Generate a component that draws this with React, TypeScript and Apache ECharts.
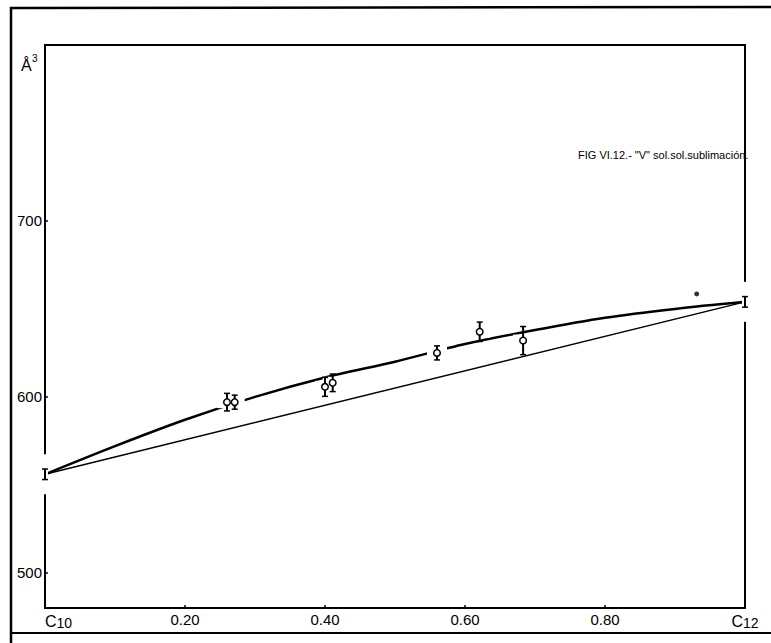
import React, { useEffect, useRef } from "react";
import * as echarts from "echarts";

const xTicks = [0, 0.2, 0.4, 0.6, 0.8, 1.0];
const xTickLabels = ["C10", "0.20", "0.40", "0.60", "0.80", "C12"];
const yTicks = [500, 600, 700];

const upperCurveX = [0, 0.1, 0.2, 0.3, 0.4, 0.5, 0.6, 0.7, 0.8, 0.9, 1.0];
const upperCurveY = [556, 572, 587, 600, 611, 620, 630, 638, 645, 650, 654];

const lowerLineX = [0, 1];
const lowerLineY = [556, 654];

const pointX = [0.26, 0.271, 0.4, 0.411, 0.56, 0.621, 0.683];
const pointY = [597, 597, 605.7, 608, 625, 637, 632];
const pointErr = [5, 4, 5.4, 5, 4, 5.5, 8];

const endX = [0, 1];
const endY = [556, 654];
const endErr = [3, 3];

const strayX = [0.931];
const strayY = [658.5];

const titleText = 'FIG VI.12.- "V" sol.sol.sublimación.';
const FONT = '"Liberation Sans", sans-serif';

export default function App() {
  const ref = useRef<HTMLDivElement>(null);
  useEffect(() => {
    document.body.style.margin = "0";
    const chart = echarts.init(ref.current!, null, { renderer: "svg" });
    const pts = pointX.map((x, i) => [x, pointY[i], pointErr[i]]);
    const ends = endX.map((x, i) => [x, endY[i], endErr[i]]);
    const option: any = {
      animation: false,
      backgroundColor: "#fff",
      textStyle: { fontFamily: FONT, color: "#000" },
      grid: {
        left: 45,
        right: 26,
        top: 45,
        bottom: 35,
        show: true,
        borderColor: "#000",
        borderWidth: 2,
        backgroundColor: "transparent",
      },
      xAxis: {
        type: "value",
        min: 0,
        max: 1,
        interval: 0.2,
        splitLine: { show: false },
        axisLine: { show: false },
        axisTick: { show: true, inside: true, length: 3, lineStyle: { color: "#000", width: 1.5 } },
        axisLabel: {
          margin: 4,
          color: "#000",
          fontSize: 15,
          fontFamily: FONT,
          alignMinLabel: "left",
          formatter: (v: number) => {
            const i = xTicks.findIndex((t) => Math.abs(t - v) < 1e-6);
            const s = i >= 0 ? xTickLabels[i] : "";
            if (s.startsWith("C")) return "{c|C}{s|" + s.slice(1) + "}";
            return s;
          },
          rich: {
            c: { fontSize: 16, color: "#000", fontFamily: FONT },
            s: { fontSize: 14, color: "#000", fontFamily: FONT, padding: [4, 0, 0, 0] },
          },
        },
      },
      yAxis: {
        type: "value",
        min: 480,
        max: 800,
        splitLine: { show: false },
        axisLine: { show: false },
        axisTick: {
          show: true,
          inside: true,
          length: 3,
          customValues: yTicks,
          lineStyle: { color: "#000", width: 1.5 },
        },
        axisLabel: {
          customValues: yTicks,
          margin: 3,
          color: "#000",
          fontSize: 15,
          fontFamily: FONT,
        },
      },
      graphic: [
        { type: "line", shape: { x1: 11, y1: 7, x2: 11, y2: 643 }, style: { stroke: "#000", lineWidth: 2.5 } },
        { type: "line", shape: { x1: 10, y1: 8, x2: 771, y2: 7 }, style: { stroke: "#000", lineWidth: 2.5 } },
        { type: "line", shape: { x1: 11, y1: 633, x2: 771, y2: 633 }, style: { stroke: "#000", lineWidth: 2 } },
        { type: "text", x: 21, y: 57, style: { text: "Å", fontSize: 16, fontFamily: FONT, fill: "#000" } },
        { type: "text", x: 32, y: 53, style: { text: "3", fontSize: 10, fontFamily: FONT, fill: "#000" } },
        { type: "text", x: 578, y: 149, style: { text: titleText, fontSize: 11, fontFamily: FONT, fill: "#000" } },
      ],
      series: [
        {
          type: "line",
          data: lowerLineX.map((x, i) => [x, lowerLineY[i]]),
          symbol: "none",
          lineStyle: { color: "#000", width: 1.5 },
          z: 2,
        },
        {
          type: "line",
          data: upperCurveX.map((x, i) => [x, upperCurveY[i]]),
          smooth: 0.3,
          symbol: "none",
          lineStyle: { color: "#000", width: 2.5 },
          z: 2,
        },
        {
          type: "custom",
          z: 3,
          clip: false,
          data: pts,
          renderItem: (params: any, api: any) => {
            const c = api.coord([api.value(0), api.value(1)]);
            return {
              type: "rect",
              shape: { x: c[0] - 10, y: c[1] - 6, width: 20, height: 12 },
              style: { fill: "#fff" },
            };
          },
        },
        {
          type: "custom",
          z: 4,
          clip: false,
          data: pts,
          renderItem: (params: any, api: any) => {
            const x = api.value(0), y = api.value(1), e = api.value(2);
            const c = api.coord([x, y]);
            const t = api.coord([x, y + e]);
            const b = api.coord([x, y - e]);
            return {
              type: "group",
              children: [
                { type: "line", shape: { x1: c[0], y1: t[1], x2: c[0], y2: b[1] }, style: { stroke: "#000", lineWidth: 2 } },
                { type: "line", shape: { x1: c[0] - 3, y1: t[1], x2: c[0] + 3, y2: t[1] }, style: { stroke: "#000", lineWidth: 1.5 } },
                { type: "line", shape: { x1: c[0] - 3, y1: b[1], x2: c[0] + 3, y2: b[1] }, style: { stroke: "#000", lineWidth: 1.5 } },
                { type: "circle", shape: { cx: c[0], cy: c[1], r: 3.3 }, style: { fill: "#fff", stroke: "#000", lineWidth: 1.5 } },
              ],
            };
          },
        },
        {
          type: "custom",
          z: 4,
          clip: false,
          data: ends,
          renderItem: (params: any, api: any) => {
            const x = api.value(0), y = api.value(1), e = api.value(2);
            const c = api.coord([x, y]);
            const t = api.coord([x, y + e]);
            const b = api.coord([x, y - e]);
            return {
              type: "group",
              children: [
                { type: "rect", shape: { x: c[0] - 3, y: c[1] - 20, width: 6, height: 40 }, style: { fill: "#fff" } },
                { type: "line", shape: { x1: c[0], y1: t[1], x2: c[0], y2: b[1] }, style: { stroke: "#000", lineWidth: 2 } },
                { type: "line", shape: { x1: c[0] - 3, y1: t[1], x2: c[0] + 3, y2: t[1] }, style: { stroke: "#000", lineWidth: 1.5 } },
                { type: "line", shape: { x1: c[0] - 3, y1: b[1], x2: c[0] + 3, y2: b[1] }, style: { stroke: "#000", lineWidth: 1.5 } },
              ],
            };
          },
        },
        {
          type: "scatter",
          data: strayX.map((x, i) => [x, strayY[i]]),
          symbol: "circle",
          symbolSize: 5,
          itemStyle: { color: "#000" },
          z: 4,
        },
      ],
    };
    chart.setOption(option);
    return () => chart.dispose();
  }, []);
  return <div ref={ref} style={{ width: 771, height: 643 }} />;
}
